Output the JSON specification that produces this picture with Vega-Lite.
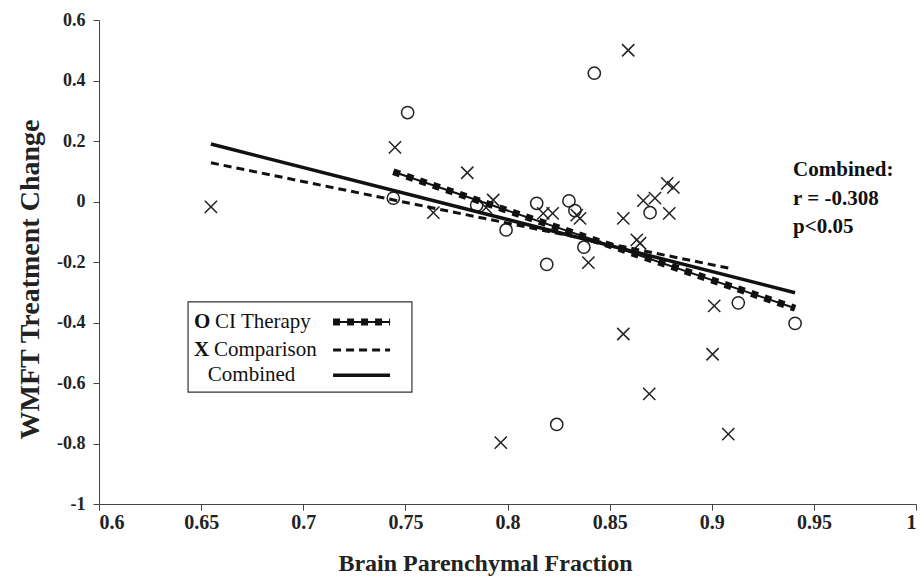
{
  "$schema": "https://vega.github.io/schema/vega-lite/v6.json",
  "autosize": "none",
  "width": 817,
  "height": 484,
  "padding": {"left": 99, "top": 20, "right": 7, "bottom": 74},
  "background": "white",
  "config": {
    "view": {"stroke": null},
    "axis": {
      "grid": false,
      "domainColor": "#444",
      "tickColor": "#444",
      "tickSize": 6,
      "labelFont": "Liberation Serif",
      "titleFont": "Liberation Serif",
      "labelFontWeight": "bold",
      "titleFontWeight": "bold",
      "labelColor": "#222",
      "titleColor": "#222"
    }
  },
  "datasets": {
    "points": [
      {"group": "CI Therapy", "bpf": 0.8425, "wmft": 0.424},
      {"group": "CI Therapy", "bpf": 0.7511, "wmft": 0.294},
      {"group": "CI Therapy", "bpf": 0.7441, "wmft": 0.011},
      {"group": "CI Therapy", "bpf": 0.7849, "wmft": -0.012},
      {"group": "CI Therapy", "bpf": 0.7993, "wmft": -0.094},
      {"group": "CI Therapy", "bpf": 0.8143, "wmft": -0.006},
      {"group": "CI Therapy", "bpf": 0.8301, "wmft": 0.002},
      {"group": "CI Therapy", "bpf": 0.833, "wmft": -0.030},
      {"group": "CI Therapy", "bpf": 0.8374, "wmft": -0.151},
      {"group": "CI Therapy", "bpf": 0.8192, "wmft": -0.208},
      {"group": "CI Therapy", "bpf": 0.8698, "wmft": -0.037},
      {"group": "CI Therapy", "bpf": 0.913, "wmft": -0.335},
      {"group": "CI Therapy", "bpf": 0.9408, "wmft": -0.403},
      {"group": "CI Therapy", "bpf": 0.8241, "wmft": -0.737},
      {"group": "Comparison", "bpf": 0.8591, "wmft": 0.5},
      {"group": "Comparison", "bpf": 0.7449, "wmft": 0.179},
      {"group": "Comparison", "bpf": 0.7803, "wmft": 0.095},
      {"group": "Comparison", "bpf": 0.7637, "wmft": -0.037},
      {"group": "Comparison", "bpf": 0.793, "wmft": 0.005},
      {"group": "Comparison", "bpf": 0.7895, "wmft": -0.02},
      {"group": "Comparison", "bpf": 0.8175, "wmft": -0.039},
      {"group": "Comparison", "bpf": 0.8221, "wmft": -0.039},
      {"group": "Comparison", "bpf": 0.8339, "wmft": -0.045},
      {"group": "Comparison", "bpf": 0.8355, "wmft": -0.056},
      {"group": "Comparison", "bpf": 0.8396, "wmft": -0.202},
      {"group": "Comparison", "bpf": 0.8567, "wmft": -0.056},
      {"group": "Comparison", "bpf": 0.8665, "wmft": 0.003},
      {"group": "Comparison", "bpf": 0.8722, "wmft": 0.011},
      {"group": "Comparison", "bpf": 0.8782, "wmft": 0.06},
      {"group": "Comparison", "bpf": 0.8812, "wmft": 0.047},
      {"group": "Comparison", "bpf": 0.8792, "wmft": -0.039},
      {"group": "Comparison", "bpf": 0.8633, "wmft": -0.127},
      {"group": "Comparison", "bpf": 0.8649, "wmft": -0.138},
      {"group": "Comparison", "bpf": 0.9012, "wmft": -0.345},
      {"group": "Comparison", "bpf": 0.8567, "wmft": -0.438},
      {"group": "Comparison", "bpf": 0.9004, "wmft": -0.505},
      {"group": "Comparison", "bpf": 0.8694, "wmft": -0.636},
      {"group": "Comparison", "bpf": 0.7967, "wmft": -0.797},
      {"group": "Comparison", "bpf": 0.9081, "wmft": -0.769},
      {"group": "Comparison", "bpf": 0.6548, "wmft": -0.018}
    ],
    "lines": [
      {"id": "CI-fit", "series": "CI Therapy", "bpf": 0.7441, "wmft": 0.0985},
      {"id": "CI-fit", "series": "CI Therapy", "bpf": 0.9408, "wmft": -0.353},
      {"id": "Comp-fit", "series": "Comparison", "bpf": 0.6548, "wmft": 0.128},
      {"id": "Comp-fit", "series": "Comparison", "bpf": 0.9081, "wmft": -0.22},
      {"id": "Comb-fit", "series": "Combined", "bpf": 0.6548, "wmft": 0.19},
      {"id": "Comb-fit", "series": "Combined", "bpf": 0.9408, "wmft": -0.3015},
      {"id": "CI-key", "series": "CI Therapy", "bpf": 0.7146, "wmft": -0.398},
      {"id": "CI-key", "series": "CI Therapy", "bpf": 0.7425, "wmft": -0.398},
      {"id": "Comp-key", "series": "Comparison", "bpf": 0.7146, "wmft": -0.491},
      {"id": "Comp-key", "series": "Comparison", "bpf": 0.7425, "wmft": -0.491},
      {"id": "Comb-key", "series": "Combined", "bpf": 0.7146, "wmft": -0.574},
      {"id": "Comb-key", "series": "Combined", "bpf": 0.7425, "wmft": -0.574}
    ],
    "legendBox": [
      {"x1": 0.6436, "x2": 0.7532, "y1": -0.332, "y2": -0.63}
    ],
    "legendSymbols": [
      {"sym": "O", "bpf": 0.6465, "wmft": -0.398},
      {"sym": "X", "bpf": 0.6465, "wmft": -0.491}
    ],
    "legendLabels": [
      {"label": "CI Therapy", "bpf": 0.6568, "wmft": -0.398},
      {"label": "Comparison", "bpf": 0.6563, "wmft": -0.491},
      {"label": "Combined", "bpf": 0.6533, "wmft": -0.574}
    ],
    "stats": [
      {"text": "Combined:", "bpf": 0.9398, "wmft": 0.104},
      {"text": "r = -0.308", "bpf": 0.9398, "wmft": 0.008},
      {"text": "p<0.05", "bpf": 0.9398, "wmft": -0.084}
    ]
  },
  "layer": [
    {
      "data": {"name": "legendBox"},
      "mark": {"type": "rect", "fill": "white", "stroke": "#333", "strokeWidth": 1.2},
      "encoding": {
        "x": {"field": "x1", "type": "quantitative", "scale": {"domain": [0.6, 1], "nice": false, "zero": false},
          "axis": {
            "values": [0.6, 0.65, 0.7, 0.75, 0.8, 0.85, 0.9, 0.95, 1],
            "labelExpr": "format(datum.value, '~g')",
            "labelFontSize": 20,
            "labelPadding": 2,
            "title": "Brain Parenchymal Fraction",
            "titleFontSize": 24,
            "titleX": 386,
            "titleY": 59,
            "titleBaseline": "middle"
          }},
        "x2": {"field": "x2"},
        "y": {"field": "y1", "type": "quantitative", "scale": {"domain": [-1, 0.6], "nice": false, "zero": false},
          "axis": {
            "values": [-1, -0.8, -0.6, -0.4, -0.2, 0, 0.2, 0.4, 0.6],
            "labelExpr": "datum.value < 0 ? '-' + format(-datum.value, '~g') : format(datum.value, '~g')",
            "labelFontSize": 18,
            "labelPadding": 8,
            "title": "WMFT Treatment Change",
            "titleFontSize": 28,
            "titleX": -69,
            "titleY": 259,
            "titleBaseline": "middle"
          }},
        "y2": {"field": "y2"}
      }
    },
    {
      "data": {"name": "points"},
      "mark": {"type": "point", "filled": false, "stroke": "#222", "strokeWidth": 1.5, "size": 150, "opacity": 1},
      "encoding": {
        "x": {"field": "bpf", "type": "quantitative"},
        "y": {"field": "wmft", "type": "quantitative"},
        "shape": {"field": "group", "type": "nominal",
          "scale": {"domain": ["CI Therapy", "Comparison"], "range": ["circle", "M-1,-1L1,1M-1,1L1,-1"]},
          "legend": null}
      }
    },
    {
      "data": {"name": "lines"},
      "transform": [{"filter": "datum.series === 'Combined'"}],
      "mark": {"type": "line", "color": "#111", "strokeWidth": 3.5},
      "encoding": {
        "x": {"field": "bpf", "type": "quantitative"},
        "y": {"field": "wmft", "type": "quantitative"},
        "detail": {"field": "id"}
      }
    },
    {
      "data": {"name": "lines"},
      "transform": [{"filter": "datum.series === 'Comparison'"}],
      "mark": {"type": "line", "color": "#111", "strokeWidth": 3, "strokeDash": [8, 5], "strokeCap": "butt"},
      "encoding": {
        "x": {"field": "bpf", "type": "quantitative"},
        "y": {"field": "wmft", "type": "quantitative"},
        "detail": {"field": "id"}
      }
    },
    {
      "data": {"name": "lines"},
      "transform": [{"filter": "datum.series === 'CI Therapy'"}],
      "mark": {"type": "line", "color": "#111", "strokeWidth": 2},
      "encoding": {
        "x": {"field": "bpf", "type": "quantitative"},
        "y": {"field": "wmft", "type": "quantitative"},
        "detail": {"field": "id"}
      }
    },
    {
      "data": {"name": "lines"},
      "transform": [{"filter": "datum.series === 'CI Therapy'"}],
      "mark": {"type": "line", "color": "#111", "strokeWidth": 7, "strokeDash": [7, 7], "strokeCap": "butt"},
      "encoding": {
        "x": {"field": "bpf", "type": "quantitative"},
        "y": {"field": "wmft", "type": "quantitative"},
        "detail": {"field": "id"}
      }
    },
    {
      "data": {"name": "legendSymbols"},
      "mark": {"type": "text", "font": "Liberation Serif", "fontWeight": "bold", "fontSize": 21, "align": "left", "baseline": "middle", "color": "#111"},
      "encoding": {
        "x": {"field": "bpf", "type": "quantitative"},
        "y": {"field": "wmft", "type": "quantitative"},
        "text": {"field": "sym"}
      }
    },
    {
      "data": {"name": "legendLabels"},
      "mark": {"type": "text", "font": "Liberation Serif", "fontSize": 21, "align": "left", "baseline": "middle", "color": "#111"},
      "encoding": {
        "x": {"field": "bpf", "type": "quantitative"},
        "y": {"field": "wmft", "type": "quantitative"},
        "text": {"field": "label"}
      }
    },
    {
      "data": {"name": "stats"},
      "mark": {"type": "text", "font": "Liberation Serif", "fontWeight": "bold", "fontSize": 21, "align": "left", "baseline": "middle", "color": "#111"},
      "encoding": {
        "x": {"field": "bpf", "type": "quantitative"},
        "y": {"field": "wmft", "type": "quantitative"},
        "text": {"field": "text"}
      }
    }
  ]
}
